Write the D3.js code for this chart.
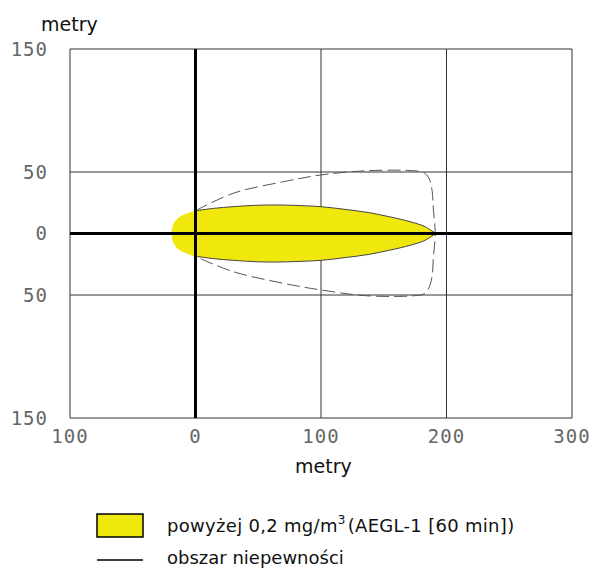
<!DOCTYPE html>
<html>
<head>
<meta charset="utf-8">
<script src="https://cdn.jsdelivr.net/npm/d3@7"></script>
<style>
  body { margin: 0; background: #fff; }
  svg { display: block; }
</style>
</head>
<body>
<div id="chart"></div>
<script>
// axis ticks (labels shown without sign, as in the original)
const xTicks = [-100, 0, 100, 200, 300];
const yTicks = [-150, -50, 0, 50, 150];

// yellow zone, upper edge (metres downwind, metres crosswind); lower edge is the mirror
const plumeUpper = [
  [-19, 0], [-18.5, 5], [-17, 9], [-14, 12.5], [-10, 15], [-5, 17], [0, 18.5],
  [15, 20.5], [30, 21.8], [50, 23], [65, 23.2], [80, 22.8], [100, 21.8],
  [120, 19.5], [138, 17], [155, 13.5], [171, 9.6], [183, 5.5], [191, 0]
];

// uncertainty area (dashed), upper and lower edges
const uncertUpper = [
  [0, 18.5], [30, 32.7], [70, 42.1], [100, 47.6], [136, 51], [174, 51],
  [182, 49.5], [186, 45], [188.5, 35], [189.5, 20], [191, 0]
];
const uncertLower = [
  [191, 0], [189.5, -20], [188.5, -35], [186, -44], [182, -49], [174, -50.6],
  [136, -50.6], [100, -45.9], [70, -40.5], [30, -31], [3, -20]
];

const legendLabels = ["powyżej 0,2 mg/m", "3", "(AEGL-1 [60 min])", "obszar niepewności"];

// 1) canvas
const W = 593, H = 569;
const svg = d3.select("#chart").append("svg")
  .attr("width", W).attr("height", H);

// 2) scales
const x = d3.scaleLinear().domain([-100, 300]).range([70, 572]);
const y = d3.scaleLinear().domain([-150, 150]).range([418, 49]);

// 3) grid
const grid = svg.append("g");
grid.selectAll("line.v")
  .data(xTicks)
  .enter().append("line")
    .attr("x1", d => x(d)).attr("x2", d => x(d))
    .attr("y1", y(150)).attr("y2", y(-150))
    .attr("stroke", "#333").attr("stroke-width", 1);
grid.selectAll("line.h")
  .data(yTicks)
  .enter().append("line")
    .attr("x1", x(-100)).attr("x2", x(300))
    .attr("y1", d => y(d)).attr("y2", d => y(d))
    .attr("stroke", "#333").attr("stroke-width", 1);

// 4) yellow zone
const plumeAll = plumeUpper.concat(plumeUpper.slice(0, -1).reverse().map(([a, b]) => [a, -b]));
const closedLine = d3.line().x(d => x(d[0])).y(d => y(d[1])).curve(d3.curveCatmullRomClosed);
svg.append("path")
  .attr("d", closedLine(plumeAll.slice(0, -1)))
  .attr("fill", "#f0e80c")
  .attr("stroke", "none");

// thin outline on the flanks
const edge = d3.line().x(d => x(d[0])).y(d => y(d[1])).curve(d3.curveCatmullRom);
const flank = plumeUpper.filter(d => d[0] >= 0);
[1, -1].forEach(s => {
  svg.append("path")
    .attr("d", edge(flank.map(([a, b]) => [a, s * b])))
    .attr("fill", "none")
    .attr("stroke", "#444")
    .attr("stroke-width", 1);
});

// 5) uncertainty area
svg.append("path")
  .attr("d", edge(uncertUpper.concat(uncertLower.slice(1))))
  .attr("fill", "none")
  .attr("stroke", "#555")
  .attr("stroke-width", 1)
  .attr("stroke-dasharray", "13,5");

// 6) main axes (thick)
svg.append("line")
  .attr("x1", x(0)).attr("x2", x(0))
  .attr("y1", y(150)).attr("y2", y(-150))
  .attr("stroke", "#000").attr("stroke-width", 3);
svg.append("line")
  .attr("x1", x(-100)).attr("x2", x(300))
  .attr("y1", y(0)).attr("y2", y(0))
  .attr("stroke", "#000").attr("stroke-width", 3);

// 7) tick labels
svg.append("g").selectAll("text")
  .data(xTicks)
  .enter().append("text")
    .attr("x", d => x(d))
    .attr("y", 443)
    .attr("text-anchor", "middle")
    .style("font-family", "'DejaVu Sans Mono', monospace")
    .style("font-size", "19px")
    .style("letter-spacing", "1px")
    .attr("fill", "#666")
    .text(d => Math.abs(d));

svg.append("g").selectAll("text")
  .data(yTicks)
  .enter().append("text")
    .attr("x", 48)
    .attr("y", d => y(d))
    .attr("dy", "0.36em")
    .attr("text-anchor", "end")
    .style("font-family", "'DejaVu Sans Mono', monospace")
    .style("font-size", "19px")
    .style("letter-spacing", "1px")
    .attr("fill", "#666")
    .text(d => Math.abs(d));

// 8) axis titles
svg.append("text")
  .attr("x", 41).attr("y", 31)
  .style("font-family", "'DejaVu Sans', sans-serif")
  .style("font-size", "19px")
  .attr("fill", "#111")
  .text("metry");

svg.append("text")
  .attr("x", 295).attr("y", 473)
  .style("font-family", "'DejaVu Sans', sans-serif")
  .style("font-size", "19px")
  .attr("fill", "#111")
  .text("metry");

// 9) legend
const legend = svg.append("g")
  .style("font-family", "'DejaVu Sans', sans-serif")
  .style("font-size", "18px")
  .attr("fill", "#111");

legend.append("rect")
  .attr("x", 97).attr("y", 514)
  .attr("width", 46).attr("height", 23)
  .attr("fill", "#f0e80c")
  .attr("stroke", "#000").attr("stroke-width", 1.5);

const t1 = legend.append("text").attr("x", 167).attr("y", 532)
  .style("letter-spacing", "0.3px");
t1.append("tspan").text(legendLabels[0]);
t1.append("tspan").attr("dy", -8).style("font-size", "12px").text(legendLabels[1]);
t1.append("tspan").attr("dy", 8).attr("dx", 2).text(legendLabels[2]);

legend.append("line")
  .attr("x1", 97).attr("x2", 143)
  .attr("y1", 560).attr("y2", 560)
  .attr("stroke", "#000").attr("stroke-width", 1.5);

legend.append("text")
  .attr("x", 167).attr("y", 564)
  .text(legendLabels[3]);
</script>
</body>
</html>
